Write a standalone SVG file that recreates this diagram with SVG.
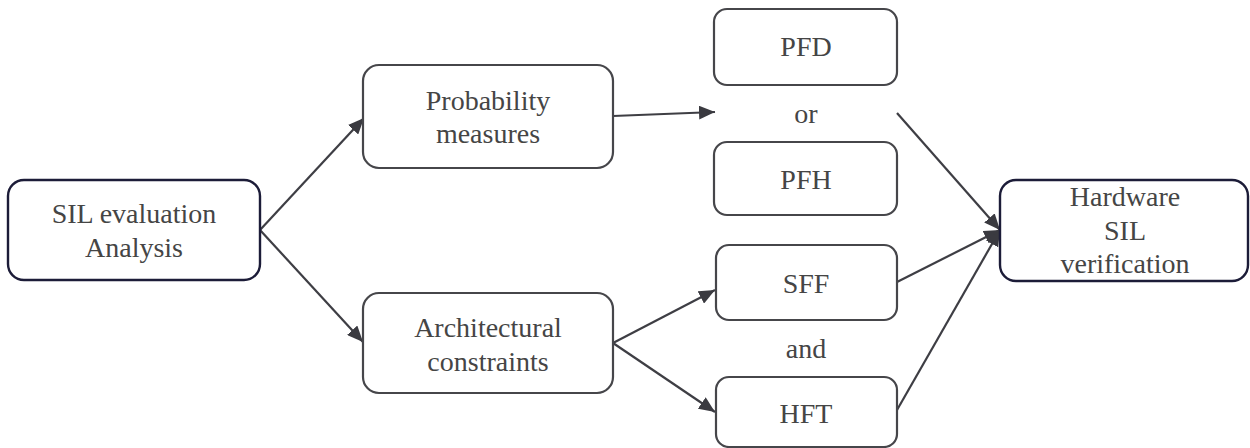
<svg xmlns="http://www.w3.org/2000/svg" width="1250" height="448" viewBox="0 0 1250 448">
  <defs>
    <style>
      .box { fill: #ffffff; stroke: #46464a; stroke-width: 2.2; }
      .key { fill: #ffffff; stroke: #1c1c38; stroke-width: 2.4; }
      .label { font-family: 'Liberation Serif', 'DejaVu Serif', serif; font-size: 28px; fill: #454545; text-anchor: middle; }
      .edge { fill: none; stroke: #3e3e44; stroke-width: 2.2; }
    </style>
    <marker id="arrow" viewBox="0 0 16 14" refX="16" refY="7" markerWidth="16" markerHeight="14" markerUnits="userSpaceOnUse" orient="auto">
      <path d="M0,0 L16,7 L0,14 Z" fill="#3a3a40"/>
    </marker>
  </defs>

  <!-- connectors -->
  <g id="connectors">
    <line class="edge" x1="260" y1="230" x2="364" y2="118" marker-end="url(#arrow)"/>
    <line class="edge" x1="260" y1="230" x2="363" y2="342" marker-end="url(#arrow)"/>
    <line class="edge" x1="613" y1="116" x2="715" y2="112" marker-end="url(#arrow)"/>
    <line class="edge" x1="613" y1="343" x2="715" y2="290" marker-end="url(#arrow)"/>
    <line class="edge" x1="613" y1="343" x2="715" y2="412" marker-end="url(#arrow)"/>
    <line class="edge" x1="897" y1="113" x2="1000" y2="230" marker-end="url(#arrow)"/>
    <line class="edge" x1="897" y1="282" x2="1000" y2="230" marker-end="url(#arrow)"/>
    <line class="edge" x1="897" y1="410" x2="1000" y2="230" marker-end="url(#arrow)"/>
  </g>

  <g id="sil-evaluation">
    <rect class="key" x="8" y="180" width="252" height="100" rx="16"/>
    <text class="label" x="134" y="223" font-family="Liberation Serif, serif">SIL  evaluation</text>
    <text class="label" x="134" y="257" font-family="Liberation Serif, serif">Analysis</text>
  </g>

  <g id="probability-measures">
    <rect class="box" x="363" y="65" width="250" height="103" rx="16"/>
    <text class="label" x="488" y="110">Probability</text>
    <text class="label" x="488" y="143">measures</text>
  </g>

  <g id="architectural-constraints">
    <rect class="box" x="363" y="293" width="250" height="100" rx="16"/>
    <text class="label" x="488" y="337">Architectural</text>
    <text class="label" x="488" y="371">constraints</text>
  </g>

  <g id="pfd">
    <rect class="box" x="714" y="9" width="183" height="76" rx="13"/>
    <text class="label" x="806" y="56">PFD</text>
  </g>

  <g id="or-label">
    <text class="label" x="806" y="123">or</text>
  </g>

  <g id="pfh">
    <rect class="box" x="714" y="142" width="183" height="73" rx="13"/>
    <text class="label" x="806" y="189">PFH</text>
  </g>

  <g id="sff">
    <rect class="box" x="716" y="245" width="181" height="75" rx="13"/>
    <text class="label" x="806" y="293">SFF</text>
  </g>

  <g id="and-label">
    <text class="label" x="806" y="358">and</text>
  </g>

  <g id="hft">
    <rect class="box" x="716" y="377" width="181" height="70" rx="13"/>
    <text class="label" x="806" y="423">HFT</text>
  </g>

  <g id="hardware-sil-verification">
    <rect class="key" x="1000" y="180" width="248" height="101" rx="16"/>
    <text class="label" x="1125" y="206">Hardware</text>
    <text class="label" x="1125" y="240">SIL</text>
    <text class="label" x="1125" y="273">verification</text>
  </g>
</svg>
